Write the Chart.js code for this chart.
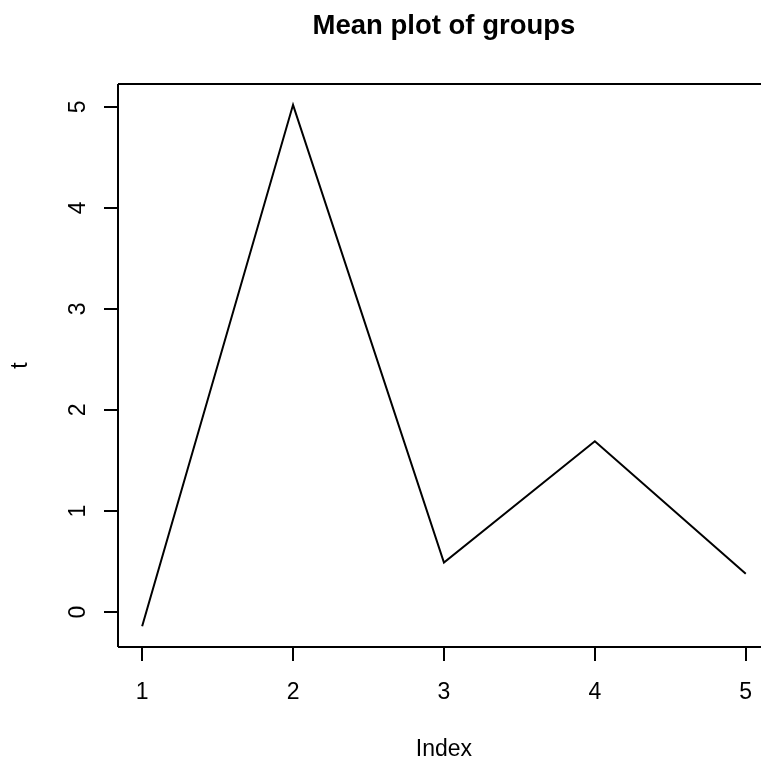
<!DOCTYPE html>
<html>
<head>
<meta charset="utf-8">
<script src="https://cdn.jsdelivr.net/npm/chart.js@4/dist/chart.umd.min.js"></script>
<style>
  html, body { margin: 0; padding: 0; background: #fff; overflow: hidden; width: 761px; height: 764px; }
</style>
</head>
<body>
<canvas id="c" width="761" height="764"></canvas>
<script>
const categories = [1, 2, 3, 4, 5];
const values = [-0.14, 5.02, 0.49, 1.69, 0.38];
const xTicks = [1, 2, 3, 4, 5];
const yTicks = [0, 1, 2, 3, 4, 5];
const titleText = "Mean plot of groups";
const xTitle = "Index";
const yTitle = "t";

const FONT = '"Liberation Sans", Arial, Helvetica, sans-serif';

const rDecor = {
  id: 'rDecor',
  afterDraw(chart) {
    const ctx = chart.ctx;
    const a = chart.chartArea;
    const xs = chart.scales.x, ys = chart.scales.y;
    // full plotting box in R runs to x = 5.16 (beyond the visible edge)
    const boxRight = xs.getPixelForValue(5.16);
    const centerX = (a.left + boxRight) / 2;
    ctx.save();
    ctx.strokeStyle = '#000';
    ctx.fillStyle = '#000';
    ctx.lineWidth = 2;
    ctx.beginPath();
    ctx.moveTo(a.left, a.top); ctx.lineTo(a.right + 2, a.top);
    ctx.moveTo(a.left, a.top); ctx.lineTo(a.left, a.bottom);
    ctx.moveTo(a.left, a.bottom); ctx.lineTo(a.right + 2, a.bottom);
    // x ticks
    xTicks.forEach(v => {
      const px = Math.round(xs.getPixelForValue(v));
      ctx.moveTo(px, a.bottom);
      ctx.lineTo(px, a.bottom + 14);
    });
    // y ticks
    yTicks.forEach(v => {
      const py = Math.round(ys.getPixelForValue(v));
      ctx.moveTo(a.left, py);
      ctx.lineTo(a.left - 14, py);
    });
    ctx.stroke();
    // x tick labels
    ctx.font = '23px ' + FONT;
    ctx.textAlign = 'center';
    ctx.textBaseline = 'alphabetic';
    xTicks.forEach(v => {
      ctx.fillText(String(v), xs.getPixelForValue(v), 699);
    });
    // y tick labels (rotated)
    yTicks.forEach(v => {
      ctx.save();
      ctx.translate(84.5, ys.getPixelForValue(v));
      ctx.rotate(-Math.PI / 2);
      ctx.fillText(String(v), 0, 0);
      ctx.restore();
    });
    // axis titles
    ctx.fillText(xTitle, centerX, 755.5);
    ctx.save();
    ctx.translate(26.5, (a.top + a.bottom) / 2);
    ctx.rotate(-Math.PI / 2);
    ctx.fillText(yTitle, 0, 0);
    ctx.restore();
    // main title
    ctx.font = 'bold 27.5px ' + FONT;
    ctx.fillText(titleText, centerX, 34);
    ctx.restore();
  }
};

new Chart(document.getElementById('c'), {
  type: 'line',
  data: {
    datasets: [{
      data: categories.map((c, i) => ({ x: c, y: values[i] })),
      borderColor: '#000',
      borderWidth: 2,
      pointRadius: 0,
      tension: 0,
      fill: false
    }]
  },
  options: {
    responsive: false,
    animation: false,
    layout: { padding: { left: 118, top: 84, right: 0, bottom: 117 } },
    plugins: { legend: { display: false }, tooltip: { enabled: false }, title: { display: false } },
    scales: {
      x: { type: 'linear', display: false, min: 0.84, max: 5.101 },
      y: { type: 'linear', display: false, min: -0.346, max: 5.226 }
    }
  },
  plugins: [rDecor]
});
</script>
</body>
</html>
